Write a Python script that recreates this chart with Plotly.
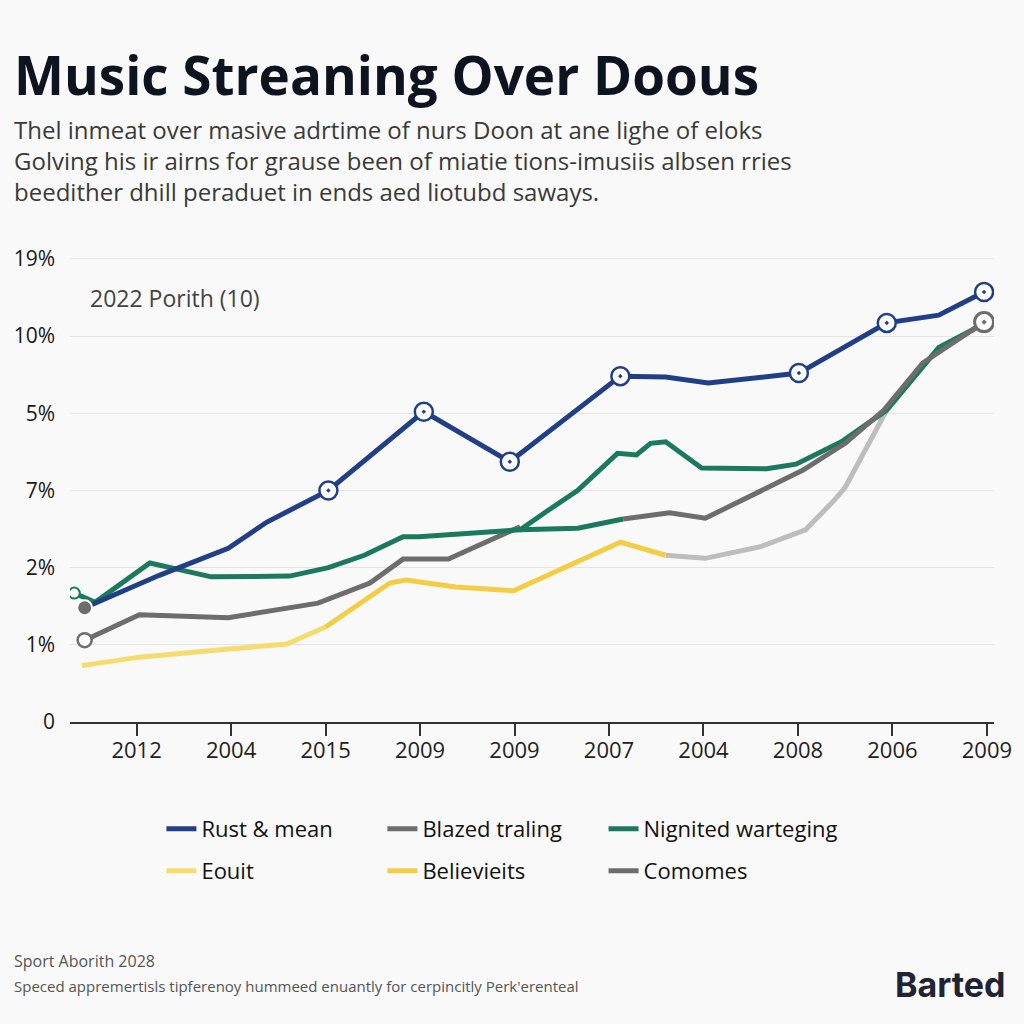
import plotly.graph_objects as go

# ---------------- data (x = position in tick index units, y = position in label-step units)
x_labels = ["2012", "2004", "2015", "2009", "2009", "2007", "2004", "2008", "2006", "2009"]
y_labels = ["0", "1%", "2%", "7%", "5%", "10%", "19%"]

rust_x = [-0.55, 0.24, 0.97, 1.38, 2.03, 3.04, 3.95, 5.12, 5.6, 6.05, 7.01, 7.94, 8.49, 8.97]
rust_y = [1.48, 1.9, 2.25, 2.59, 3.0, 4.02, 3.37, 4.48, 4.47, 4.39, 4.52, 5.17, 5.27, 5.57]
rust_marked = [4, 5, 6, 7, 10, 11, 13]

blazed_x = [-0.55, 0.03, 0.97, 1.92, 2.47, 2.82, 3.3, 4.06]
blazed_y = [1.06, 1.39, 1.35, 1.54, 1.8, 2.11, 2.11, 2.53]

nign_x = [-0.66, -0.44, 0.14, 0.79, 1.62, 2.03, 2.41, 2.82, 2.99, 4.06, 4.33, 4.67, 5.09,
          5.29, 5.44, 5.6, 5.98, 6.67, 6.98, 7.46, 7.94, 8.49, 8.94]
nign_y = [1.67, 1.55, 2.06, 1.88, 1.89, 2.0, 2.16, 2.4, 2.4, 2.49, 2.72, 3.0, 3.48,
          3.46, 3.61, 3.63, 3.29, 3.28, 3.34, 3.63, 4.04, 4.85, 5.14]

nign_flat_x = [4.06, 4.67, 5.15]
nign_flat_y = [2.49, 2.51, 2.63]

eouit_x = [-0.58, 0.03, 0.83, 1.59, 2.0]
eouit_y = [0.73, 0.84, 0.93, 1.01, 1.23]

belie_x = [2.0, 2.68, 2.85, 3.38, 3.99, 5.12, 5.6]
belie_y = [1.23, 1.8, 1.84, 1.75, 1.7, 2.33, 2.16]

comom_x = [5.15, 5.64, 6.02, 7.05, 7.5, 7.91, 8.32, 8.97]
comom_y = [2.63, 2.71, 2.64, 3.26, 3.61, 4.04, 4.65, 5.18]

light_x = [5.6, 6.02, 6.6, 7.08, 7.39, 7.5, 7.94]
light_y = [2.16, 2.12, 2.27, 2.49, 2.88, 3.04, 4.04]

# ---------------- styles
NAVY = "#213f86"
GREEN = "#1b7a5c"
GRAY = "#6d6d6d"
LGRAY = "#bdbdbd"
YEL = "#f3cd43"
PYEL = "#f6dc6e"
BG = "#f9f9f9"
FONT = "Open Sans"

L, R, T, B = 70, 24, 250, 302
W, H = 1024, 1024
PW, PH = W - L - R, H - T - B


def px(x):
    return (x - L) / PW


def py(y):
    return (H - B - y) / PH


fig = go.Figure()

# light gray (no legend)
fig.add_trace(go.Scatter(x=light_x, y=light_y, mode="lines", line=dict(color=LGRAY, width=5),
                         showlegend=False, hoverinfo="skip"))

fig.add_trace(go.Scatter(x=blazed_x, y=blazed_y, mode="lines", name="Blazed traling",
                         line=dict(color=GRAY, width=5), legend="legend", legendrank=2))
fig.add_trace(go.Scatter(x=nign_flat_x, y=nign_flat_y, mode="lines", line=dict(color=GREEN, width=5),
                         showlegend=False, hoverinfo="skip"))
fig.add_trace(go.Scatter(x=nign_x, y=nign_y, mode="lines", name="Nignited warteging",
                         line=dict(color=GREEN, width=5), legend="legend3"))
fig.add_trace(go.Scatter(x=eouit_x, y=eouit_y, mode="lines", name="Eouit",
                         line=dict(color=PYEL, width=5), legend="legend2", legendrank=1))
fig.add_trace(go.Scatter(x=belie_x, y=belie_y, mode="lines", name="Believieits",
                         line=dict(color=YEL, width=5), legend="legend2", legendrank=2))
fig.add_trace(go.Scatter(x=comom_x, y=comom_y, mode="lines", name="Comomes",
                         line=dict(color=GRAY, width=5), legend="legend4"))
fig.add_trace(go.Scatter(x=rust_x, y=rust_y, mode="lines", name="Rust & mean",
                         line=dict(color=NAVY, width=5), legend="legend", legendrank=1))

# markers (not in legend)
fig.add_trace(go.Scatter(x=[blazed_x[0]], y=[blazed_y[0]], mode="markers", showlegend=False,
                         marker=dict(size=14, color="white", line=dict(color=GRAY, width=2.5))))
fig.add_trace(go.Scatter(x=[nign_x[0]], y=[nign_y[0]], mode="markers", showlegend=False,
                         marker=dict(size=11, color="white", line=dict(color=GREEN, width=2))))
fig.add_trace(go.Scatter(x=[comom_x[-1]], y=[comom_y[-1]], mode="markers", showlegend=False,
                         marker=dict(size=19, color="white", symbol="circle-dot",
                                     line=dict(color=GRAY, width=3))))
fig.add_trace(go.Scatter(x=[rust_x[0]], y=[rust_y[0]], mode="markers", showlegend=False,
                         marker=dict(size=15, color=GRAY, line=dict(color="white", width=2))))
fig.add_trace(go.Scatter(x=[rust_x[i] for i in rust_marked], y=[rust_y[i] for i in rust_marked],
                         mode="markers", showlegend=False,
                         marker=dict(size=18, color="white", symbol="circle-dot",
                                     line=dict(color=NAVY, width=2.5))))

leg_common = dict(orientation="h", xanchor="left", yanchor="middle",
                  font=dict(size=22, color="#111"), bgcolor="rgba(0,0,0,0)", traceorder="normal")

fig.update_layout(
    width=W, height=H,
    margin=dict(l=L, r=R, t=T, b=B),
    paper_bgcolor=BG, plot_bgcolor=BG,
    font=dict(family=FONT, color="#222"),
    title=dict(text="<b>Music Streaning Over Doous</b>", x=14 / W, xanchor="left",
               y=1 - 76 / H, yanchor="middle", font=dict(size=53, color="#0d1420", family=FONT)),
    xaxis=dict(range=[-0.705, 9.075], tickvals=list(range(len(x_labels))), ticktext=x_labels,
               showgrid=False, zeroline=False, showline=True, linecolor="#333", linewidth=2,
               ticks="outside", ticklen=12, tickwidth=2, tickcolor="#333",
               tickfont=dict(size=22, color="#222"), ticklabelstandoff=-4, fixedrange=True),
    yaxis=dict(range=[0, 6.114], tickvals=list(range(len(y_labels))), ticktext=y_labels,
               showgrid=True, gridcolor="#e4e4e4", gridwidth=1, zeroline=False,
               tickfont=dict(size=21, color="#1a1a1a"), ticklabelstandoff=14, fixedrange=True),
    legend=dict(x=px(162), y=py(829), entrywidth=176, entrywidthmode="pixels", **leg_common),
    legend2=dict(x=px(162), y=py(871), entrywidth=176, entrywidthmode="pixels", **leg_common),
    legend3=dict(x=px(607), y=py(829), **leg_common),
    legend4=dict(x=px(607), y=py(871), **leg_common),
    hovermode=False,
)

subtitle = ("Thel inmeat over masive adrtime of nurs Doon at ane lighe of eloks<br>"
            "Golving his ir airns for grause been of miatie tions-imusiis albsen rries<br>"
            "beedither dhill peraduet in ends aed liotubd saways.")

annos = [
    dict(text=subtitle, x=px(12), y=py(161), xanchor="left", yanchor="middle", align="left",
         font=dict(size=24, color="#3a3a3a")),
    dict(text="2022 Porith (10)", x=px(88), y=py(298), xanchor="left", yanchor="middle",
         font=dict(size=23, color="#444")),
    dict(text="Sport Aborith 2028", x=px(12), y=py(961), xanchor="left", yanchor="middle",
         font=dict(size=16, color="#555")),
    dict(text="Speced appremertisls tipferenoy hummeed enuantly for cerpincitly Perk'erenteal",
         x=px(12), y=py(986), xanchor="left", yanchor="middle", font=dict(size=15, color="#555")),
    dict(text="<b>Barted</b>", x=px(1014), y=py(984), xanchor="right", yanchor="middle",
         font=dict(size=34, color="#1f2433", family="Inter")),
]
for a in annos:
    a.update(xref="paper", yref="paper", showarrow=False)
fig.update_layout(annotations=annos)

fig.write_html("out.html", config={"displayModeBar": False},
               post_script="document.body.style.margin='0';")
